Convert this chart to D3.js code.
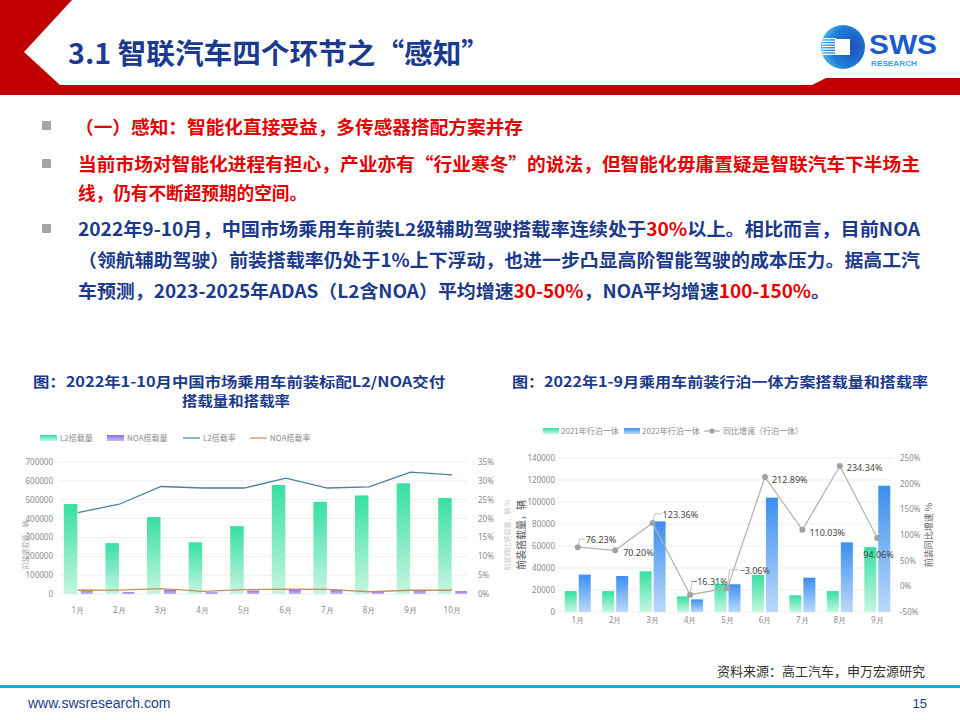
<!DOCTYPE html>
<html><head><meta charset="utf-8">
<script src="https://cdn.jsdelivr.net/npm/d3@7"></script>
<style>
html,body{margin:0;padding:0;background:#fff;}
svg{display:block;font-family:"Noto Sans CJK SC","Noto Sans",sans-serif;}
</style></head>
<body>
<svg id="s" width="960" height="720"></svg>
<script>
// ---------- data ----------
const months1 = ["1月","2月","3月","4月","5月","6月","7月","8月","9月","10月"];
const l2Volume = [477000,270000,408000,274000,360000,578000,489000,523000,587000,509000];
const noaVolume = [23000,10000,23000,9000,18000,26000,23000,14000,22000,15000];
const l2Rate = [21.6,23.8,28.5,28.1,28.1,30.7,28.1,28.4,32.3,31.6];
const noaRate = [1.0,1.05,1.4,0.7,1.15,1.3,1.2,0.6,1.0,1.0];
const ticks1Left = [0,100000,200000,300000,400000,500000,600000,700000];
const ticks1Right = [0,5,10,15,20,25,30,35];

const months2 = ["1月","2月","3月","4月","5月","6月","7月","8月","9月"];
const vol2021 = [19000,19000,37000,14200,25700,33600,15200,19000,59000];
const vol2022 = [34000,32700,82400,11500,25200,104000,31200,63300,114800];
const growth = [76.23,70.20,123.36,-16.31,-3.06,212.89,110.03,234.34,94.06];
const ticks2Left = [0,20000,40000,60000,80000,100000,120000,140000];
const ticks2Right = [-50,0,50,100,150,200,250];

const svg = d3.select("#s");
const defs = svg.append("defs");
function grad(id, top, bottom){
  const g = defs.append("linearGradient").attr("id",id).attr("x1",0).attr("y1",0).attr("x2",0).attr("y2",1);
  g.append("stop").attr("offset","0%").attr("stop-color",top);
  g.append("stop").attr("offset","100%").attr("stop-color",bottom);
}
grad("gGreen","#36e0a0","#c6f5e2");
grad("gPurple","#8e6cf0","#c9b8f7");
grad("gBlue","#3b8ff0","#bcd9fb");
const lg = defs.append("radialGradient").attr("id","gLogo").attr("cx","0.7").attr("cy","0.5").attr("r","0.8");
lg.append("stop").attr("offset","0%").attr("stop-color","#1f4fb8");
lg.append("stop").attr("offset","60%").attr("stop-color","#1f80d8");
lg.append("stop").attr("offset","100%").attr("stop-color","#5ed0f5");

// ---------- header ----------
svg.append("polygon")
  .attr("points","0,0 72,0 24,52 60,85 812,85 826,78 960,78 960,95 0,95")
  .attr("fill","#c00000");
svg.append("text").attr("x",68).attr("y",64)
  .attr("font-size",28).attr("font-weight",700).attr("fill","#1b3a8f")
  .attr("textLength",422).attr("lengthAdjust","spacingAndGlyphs")
  .text("3.1 智联汽车四个环节之“感知”");

// logo
const logo = svg.append("g");
logo.append("circle").attr("cx",843).attr("cy",47).attr("r",22).attr("fill","url(#gLogo)");
for(let i=0;i<7;i++){
  logo.append("rect").attr("x",822).attr("y",38+i*2.6).attr("width",14).attr("height",1.3).attr("fill","#fff");
}
logo.append("rect").attr("x",835).attr("y",39).attr("width",15).attr("height",16).attr("fill","#fff");
logo.append("text").attr("x",869).attr("y",54).attr("font-family","Liberation Sans, Arial, sans-serif")
  .attr("font-size",27).attr("font-weight",700).attr("fill","#1a5cc8")
  .attr("textLength",68).attr("lengthAdjust","spacingAndGlyphs").text("SWS");
logo.append("text").attr("x",871).attr("y",66).attr("font-family","Liberation Sans, Arial, sans-serif")
  .attr("font-size",7.5).attr("font-weight",700).attr("fill","#36a0e8")
  .attr("textLength",46).attr("lengthAdjust","spacingAndGlyphs").text("RESEARCH");

// ---------- bullets ----------
const RED="#e60000", BLUE="#1c3a8c";
[[42,121],[42,159],[42,224]].forEach(p=>{
  svg.append("rect").attr("x",p[0]).attr("y",p[1]).attr("width",9).attr("height",9).attr("fill","#a6a6a6");
});
const lines = [
  {x:75,y:134,len:448,parts:[["（一）感知：智能化直接受益，多传感器搭配方案并存",RED]]},
  {x:78,y:171,len:842,parts:[["当前市场对智能化进程有担心，产业亦有“行业寒冬”的说法，但智能化毋庸置疑是智联汽车下半场主",RED]]},
  {x:78,y:200,len:229,parts:[["线，仍有不断超预期的空间。",RED]]},
  {x:78,y:236,len:842,parts:[["2022年9-10月，中国市场乘用车前装L2级辅助驾驶搭载率连续处于",BLUE],["30%",RED],["以上。相比而言，目前NOA",BLUE]]},
  {x:78,y:267,len:842,parts:[["（领航辅助驾驶）前装搭载率仍处于1%上下浮动，也进一步凸显高阶智能驾驶的成本压力。据高工汽",BLUE]]},
  {x:78,y:298,len:752,parts:[["车预测，2023-2025年ADAS（L2含NOA）平均增速",BLUE],["30-50%",RED],["，NOA平均增速",BLUE],["100-150%",RED],["。",BLUE]]}
];
lines.forEach(l=>{
  const t = svg.append("text").attr("x",l.x).attr("y",l.y).attr("font-size",18).attr("font-weight",700)
    .attr("textLength",l.len).attr("lengthAdjust","spacingAndGlyphs");
  l.parts.forEach(p=>t.append("tspan").attr("fill",p[1]).text(p[0]));
});

// ---------- chart titles ----------
function title(x,y,txt,len){
  svg.append("text").attr("x",x).attr("y",y).attr("font-size",14).attr("font-weight",700).attr("fill","#1c3a8c")
    .attr("textLength",len).attr("lengthAdjust","spacingAndGlyphs").text(txt);
}
title(33,387,"图：2022年1-10月中国市场乘用车前装标配L2/NOA交付",412);
title(182,406,"搭载量和搭载率",108);
title(512,387,"图：2022年1-9月乘用车前装行泊一体方案搭载量和搭载率",416);

const AX="#8a8a8a";
function styleAxis(g){
  g.select(".domain").remove();
  g.selectAll("line").remove();
  g.selectAll("text").attr("fill",AX).attr("font-size",8).attr("font-family","Noto Sans, sans-serif");
}

// ---------- chart 1 ----------
const c1 = svg.append("g");
const x1 = d3.scaleBand().domain(months1).range([57,473]);
const y1 = d3.scaleLinear().domain([0,700000]).range([594,462]);
const r1 = d3.scaleLinear().domain([0,35]).range([594,462]);
c1.selectAll(".g1").data(ticks1Left).join("line")
  .attr("x1",59).attr("x2",467).attr("y1",d=>y1(d)).attr("y2",d=>y1(d))
  .attr("stroke","#eeeeee").attr("stroke-width",1);
c1.append("g").attr("transform","translate(53,0)")
  .call(d3.axisLeft(y1).tickValues(ticks1Left).tickSize(0).tickPadding(0).tickFormat(d=>String(d)))
  .call(styleAxis);
c1.append("g").attr("transform","translate(478,0)")
  .call(d3.axisRight(r1).tickValues(ticks1Right).tickSize(0).tickPadding(0).tickFormat(d=>d+"%"))
  .call(styleAxis);
c1.append("g").attr("transform","translate(0,607)")
  .call(d3.axisBottom(x1).tickSize(0).tickPadding(0))
  .call(styleAxis);
const cx1 = d=>x1(d)+x1.bandwidth()/2;
c1.selectAll(".l2").data(months1).join("rect")
  .attr("x",d=>cx1(d)-14).attr("width",13.5)
  .attr("y",(d,i)=>y1(l2Volume[i])).attr("height",(d,i)=>y1(0)-y1(l2Volume[i]))
  .attr("fill","url(#gGreen)");
c1.selectAll(".noa").data(months1).join("rect")
  .attr("x",d=>cx1(d)+3).attr("width",12)
  .attr("y",(d,i)=>y1(noaVolume[i])).attr("height",(d,i)=>y1(0)-y1(noaVolume[i]))
  .attr("fill","url(#gPurple)");
c1.append("path").datum(months1)
  .attr("d",d3.line().x(d=>cx1(d)).y((d,i)=>r1(l2Rate[i])))
  .attr("fill","none").attr("stroke","#4d7f9e").attr("stroke-width",1.3);
c1.append("path").datum(months1)
  .attr("d",d3.line().x(d=>cx1(d)).y((d,i)=>r1(noaRate[i])))
  .attr("fill","none").attr("stroke","#c9905a").attr("stroke-width",1.3);
c1.append("text").attr("transform","translate(28,545) rotate(-90)").attr("text-anchor","middle")
  .attr("font-size",7).attr("fill","#aaa").text("前装搭载量，辆");
// legend 1
const leg1 = c1.append("g").attr("font-size",8).attr("fill",AX);
leg1.append("rect").attr("x",40).attr("y",435).attr("width",17).attr("height",6).attr("fill","url(#gGreen)");
leg1.append("text").attr("x",60).attr("y",441).text("L2搭载量");
leg1.append("rect").attr("x",107).attr("y",435).attr("width",17).attr("height",6).attr("fill","url(#gPurple)");
leg1.append("text").attr("x",127).attr("y",441).text("NOA搭载量");
leg1.append("line").attr("x1",183).attr("x2",200).attr("y1",438).attr("y2",438).attr("stroke","#4d7f9e").attr("stroke-width",1.2);
leg1.append("text").attr("x",203).attr("y",441).text("L2搭载率");
leg1.append("line").attr("x1",250).attr("x2",267).attr("y1",438).attr("y2",438).attr("stroke","#c9905a").attr("stroke-width",1.2);
leg1.append("text").attr("x",270).attr("y",441).text("NOA搭载率");

// ---------- chart 2 ----------
const c2 = svg.append("g");
const x2 = d3.scaleBand().domain(months2).range([559,896]);
const y2 = d3.scaleLinear().domain([0,140000]).range([612,458]);
const r2 = d3.scaleLinear().domain([-50,250]).range([612,458]);
c2.selectAll(".g2").data(ticks2Left).join("line")
  .attr("x1",558).attr("x2",893).attr("y1",d=>y2(d)).attr("y2",d=>y2(d))
  .attr("stroke","#eeeeee").attr("stroke-width",1);
c2.append("g").attr("transform","translate(555,0)")
  .call(d3.axisLeft(y2).tickValues(ticks2Left).tickSize(0).tickPadding(0).tickFormat(d=>String(d)))
  .call(styleAxis);
c2.append("g").attr("transform","translate(900,0)")
  .call(d3.axisRight(r2).tickValues(ticks2Right).tickSize(0).tickPadding(0).tickFormat(d=>d+"%"))
  .call(styleAxis);
c2.append("g").attr("transform","translate(0,617)")
  .call(d3.axisBottom(x2).tickSize(0).tickPadding(0))
  .call(styleAxis);
const cx2 = d=>x2(d)+x2.bandwidth()/2;
c2.selectAll(".v21").data(months2).join("rect")
  .attr("x",d=>cx2(d)-13).attr("width",12)
  .attr("y",(d,i)=>y2(vol2021[i])).attr("height",(d,i)=>y2(0)-y2(vol2021[i]))
  .attr("fill","url(#gGreen)");
c2.selectAll(".v22").data(months2).join("rect")
  .attr("x",d=>cx2(d)+1).attr("width",12)
  .attr("y",(d,i)=>y2(vol2022[i])).attr("height",(d,i)=>y2(0)-y2(vol2022[i]))
  .attr("fill","url(#gBlue)");
c2.append("path").datum(months2)
  .attr("d",d3.line().x(d=>cx2(d)).y((d,i)=>r2(growth[i])))
  .attr("fill","none").attr("stroke","#b0b0b0").attr("stroke-width",1.2);
c2.selectAll(".dot").data(months2).join("circle")
  .attr("cx",d=>cx2(d)).attr("cy",(d,i)=>r2(growth[i])).attr("r",3).attr("fill","#a0a0a0");
// labels: [dx, dy, leader]
const labelOff = [[8,-7,true],[8,3,false],[10,-8,true],[2,-13,true],[12,-17,true],[7,3,false],[7,3,false],[7,2,false],[-14,17,false]];
months2.forEach((m,i)=>{
  const px = cx2(m), py = r2(growth[i]);
  const o = labelOff[i];
  if(o[2]){
    c2.append("path").attr("d",`M${px},${py} L${px+2},${py+o[1]-1} L${px+o[0]-1},${py+o[1]-1}`)
      .attr("fill","none").attr("stroke","#b0b0b0").attr("stroke-width",0.8);
  }
  c2.append("text").attr("x",px+o[0]).attr("y",py+o[1]+3).attr("font-size",9).attr("fill","#444")
    .attr("font-family","Noto Sans, sans-serif")
    .text((growth[i]<0?"−"+Math.abs(growth[i]).toFixed(2):growth[i].toFixed(2))+"%");
});
c2.append("text").attr("transform","translate(525,535) rotate(-90)").attr("text-anchor","middle")
  .attr("font-size",10).attr("fill","#555").text("前装搭载量，辆");
c2.append("text").attr("transform","translate(510,535) rotate(-90)").attr("text-anchor","middle")
  .attr("font-size",7).attr("fill","#c8c8c8").text("前装同比搭载量，辆 %");
c2.append("text").attr("transform","translate(932,535) rotate(-90)").attr("text-anchor","middle")
  .attr("font-size",9).attr("fill","#666").text("前装同比增速 %");
// legend 2
const leg2 = c2.append("g").attr("font-size",8).attr("fill",AX);
leg2.append("rect").attr("x",543).attr("y",428).attr("width",16).attr("height",6).attr("fill","url(#gGreen)");
leg2.append("text").attr("x",561).attr("y",434).text("2021年行泊一体");
leg2.append("rect").attr("x",624).attr("y",428).attr("width",16).attr("height",6).attr("fill","url(#gBlue)");
leg2.append("text").attr("x",642).attr("y",434).text("2022年行泊一体");
leg2.append("line").attr("x1",704).attr("x2",720).attr("y1",431).attr("y2",431).attr("stroke","#a0a0a0").attr("stroke-width",1);
leg2.append("circle").attr("cx",712).attr("cy",431).attr("r",2.5).attr("fill","#a0a0a0");
leg2.append("text").attr("x",723).attr("y",434).text("同比增速（行泊一体）");

// ---------- footer ----------
svg.append("text").attr("x",925).attr("y",676).attr("text-anchor","end").attr("font-size",13).attr("fill","#333")
  .text("资料来源：高工汽车，申万宏源研究");
svg.append("rect").attr("x",0).attr("y",685).attr("width",960).attr("height",3).attr("fill","#1aa3dc");
svg.append("text").attr("x",28).attr("y",708).attr("font-size",14).attr("fill","#1d3c8c")
  .attr("font-family","Liberation Sans, Arial, sans-serif").text("www.swsresearch.com");
svg.append("text").attr("x",927).attr("y",708).attr("text-anchor","end").attr("font-size",13).attr("fill","#1d3c8c")
  .attr("font-family","Liberation Sans, Arial, sans-serif").text("15");
</script>
</body></html>
